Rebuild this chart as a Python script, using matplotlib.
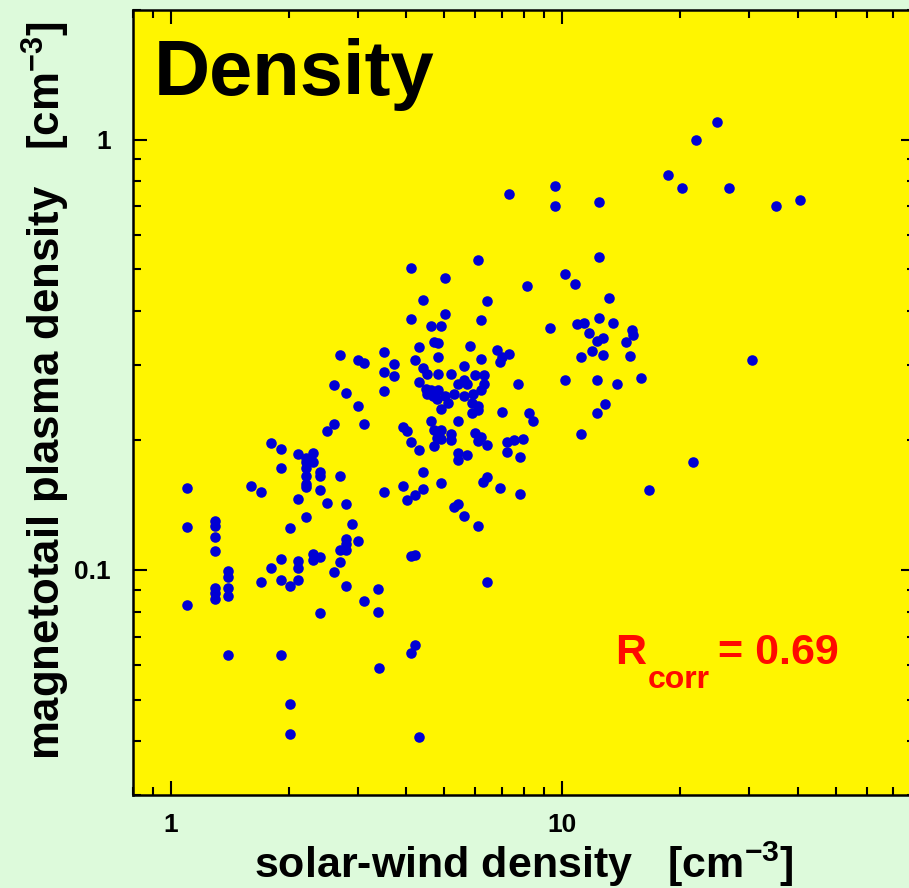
import matplotlib
matplotlib.use("Agg")
import matplotlib.pyplot as plt
from matplotlib import ticker

# solar-wind density [cm^-3] vs magnetotail plasma density [cm^-3]
sw_density = [
    24.9, 22.0, 18.7, 20.3, 26.7, 35.2, 40.6, 7.32, 9.61, 9.61,
    12.4, 6.11, 4.11, 5.02, 12.4, 10.2, 10.8, 8.11, 4.41, 6.42,
    13.2, 5.02, 4.11, 6.22, 12.4, 4.61, 4.91, 9.33, 10.9, 11.4,
    13.5, 11.7, 15.1, 15.2, 12.3, 12.7, 14.6, 4.71, 4.81, 5.81,
    4.31, 2.70, 3.51, 6.80, 7.32, 4.81, 3.01, 3.11, 4.21, 6.22,
    7.02, 6.92, 11.9, 11.2, 12.7, 14.9, 30.5, 3.71, 5.61, 4.41,
    4.51, 3.51, 3.71, 4.81, 5.21, 6.00, 6.31, 5.61, 5.41, 5.72,
    6.31, 6.22, 2.61, 4.31, 7.72, 10.2, 12.3, 13.8, 15.9, 3.51,
    2.81, 4.49, 4.61, 4.81, 4.52, 4.68, 4.78, 5.02, 5.11, 5.30,
    5.61, 5.93, 5.89, 6.10, 6.11, 5.89, 4.91, 7.02, 3.01, 8.22,
    8.42, 12.9, 12.3, 2.61, 2.50, 3.11, 4.61, 5.41, 3.91, 4.01,
    4.71, 4.91, 4.78, 4.91, 5.21, 5.21, 6.00, 6.19, 6.11, 6.42,
    4.11, 4.71, 4.31, 5.41, 5.41, 5.72, 7.21, 7.52, 7.93, 7.22,
    7.82, 11.2, 1.80, 1.91, 1.91, 2.11, 2.31, 2.21, 2.21, 2.31,
    2.21, 2.21, 2.21, 2.21, 2.41, 2.41, 2.41, 2.70, 4.41, 4.91,
    3.91, 4.41, 4.21, 4.01, 3.51, 6.42, 6.29, 6.92, 7.82, 21.6,
    16.7, 1.60, 1.70, 1.10, 2.11, 2.50, 2.81, 5.30, 5.41, 5.61,
    6.11, 2.21, 2.01, 2.91, 1.10, 1.30, 1.30, 1.30, 1.30, 2.81,
    2.81, 2.81, 2.70, 3.01, 2.31, 2.31, 2.41, 2.70, 2.11, 2.11,
    2.11, 1.91, 1.80, 2.61, 2.01, 1.91, 1.70, 2.81, 1.40, 1.40,
    1.30, 1.30, 1.30, 1.40, 1.40, 1.10, 3.11, 3.39, 3.39, 2.41,
    4.11, 4.21, 6.42, 1.40, 1.91, 4.21, 4.11, 3.41, 2.01, 2.01,
    4.31,
]
tail_density = [
    1.10, 1.00, 0.826, 0.772, 0.772, 0.700, 0.724, 0.747, 0.782, 0.700,
    0.716, 0.526, 0.502, 0.476, 0.534, 0.487, 0.462, 0.457, 0.423, 0.422,
    0.428, 0.393, 0.382, 0.380, 0.384, 0.369, 0.368, 0.364, 0.372, 0.374,
    0.374, 0.356, 0.361, 0.352, 0.341, 0.345, 0.338, 0.338, 0.336, 0.331,
    0.329, 0.315, 0.321, 0.325, 0.317, 0.312, 0.308, 0.303, 0.307, 0.309,
    0.312, 0.304, 0.322, 0.312, 0.316, 0.314, 0.308, 0.301, 0.298, 0.295,
    0.285, 0.288, 0.282, 0.285, 0.286, 0.284, 0.284, 0.277, 0.270, 0.270,
    0.270, 0.262, 0.269, 0.273, 0.271, 0.276, 0.277, 0.270, 0.280, 0.260,
    0.258, 0.264, 0.262, 0.262, 0.256, 0.253, 0.249, 0.253, 0.244, 0.257,
    0.253, 0.256, 0.244, 0.241, 0.235, 0.232, 0.2365, 0.233, 0.241, 0.231,
    0.222, 0.2435, 0.231, 0.218, 0.210, 0.218, 0.222, 0.222, 0.215, 0.210,
    0.212, 0.211, 0.203, 0.201, 0.207, 0.200, 0.208, 0.204, 0.199, 0.195,
    0.198, 0.194, 0.190, 0.187, 0.180, 0.185, 0.198, 0.200, 0.202, 0.188,
    0.183, 0.207, 0.197, 0.191, 0.173, 0.186, 0.187, 0.182, 0.178, 0.178,
    0.173, 0.165, 0.158, 0.156, 0.169, 0.165, 0.153, 0.165, 0.169, 0.159,
    0.157, 0.154, 0.149, 0.1455, 0.152, 0.164, 0.160, 0.155, 0.150, 0.178,
    0.153, 0.1565, 0.152, 0.155, 0.146, 0.143, 0.1426, 0.140, 0.1426, 0.1335,
    0.1265, 0.133, 0.125, 0.128, 0.126, 0.130, 0.1265, 0.119, 0.1105, 0.118,
    0.1147, 0.111, 0.111, 0.117, 0.109, 0.1055, 0.107, 0.1045, 0.105, 0.101,
    0.095, 0.106, 0.101, 0.099, 0.092, 0.0946, 0.094, 0.0917, 0.0992, 0.0965,
    0.0908, 0.0886, 0.0858, 0.0907, 0.087, 0.0828, 0.0845, 0.0902, 0.080, 0.0796,
    0.108, 0.1086, 0.094, 0.0635, 0.0635, 0.067, 0.0643, 0.0591, 0.0489, 0.0415,
    0.0410,
]
r_corr = 0.69

W, H = 909, 888
plt.rcParams['font.family'] = ['Liberation Sans', 'DejaVu Sans']
plt.rcParams['font.weight'] = 'bold'
plt.rcParams['mathtext.fontset'] = 'custom'
plt.rcParams['mathtext.rm'] = 'Liberation Sans:bold'
plt.rcParams['mathtext.bf'] = 'Liberation Sans:bold'
plt.rcParams['mathtext.default'] = 'bf'

fig = plt.figure(figsize=(W / 100, H / 100), dpi=100, facecolor='#ddfadb')
# axes box runs slightly past the right edge of the figure
ax = fig.add_axes([133 / W, 1 - 795 / H, 782.4 / W, 785 / H])
ax.set_facecolor('#fff500')

ax.plot(sw_density, tail_density, 'o', color='#0000d4', markersize=7.6,
        markeredgewidth=0, zorder=3)

ax.set_xscale('log')
ax.set_yscale('log')
ax.set_xlim(0.8, 80)
ax.set_ylim(0.03, 2)

fmt = ticker.FuncFormatter(lambda v, _: f'{v:g}')
ax.xaxis.set_major_formatter(fmt)
ax.yaxis.set_major_formatter(fmt)
ax.xaxis.set_minor_formatter(ticker.NullFormatter())
ax.yaxis.set_minor_formatter(ticker.NullFormatter())
ax.tick_params(which='both', direction='in', top=True, right=True,
               width=1.5, colors='black', labelsize=19)
ax.tick_params(which='major', length=10)
ax.tick_params(which='minor', length=5.5)
ax.tick_params(axis='x', pad=13)
ax.tick_params(axis='y', pad=16)
for s in ax.spines.values():
    s.set_linewidth(1.8)

ax.set_xlabel('solar-wind density   [cm$^{-3}$]', fontsize=31,
              fontweight='bold', va='baseline')
ax.xaxis.set_label_coords(0.5, -0.106)
ax.set_ylabel('magnetotail plasma density   [cm$^{-3}$]', fontsize=31.5,
              fontweight='bold', va='baseline')
ax.yaxis.set_label_coords(-0.092, 0.515)

ax.text(0.026, 0.892, 'Density', transform=ax.transAxes, fontsize=56,
        fontweight='bold', va='baseline', ha='left')

red = '#ff0a00'
fig.text(615 / W, 1 - 663.5 / H, 'R', color=red, fontsize=31,
         fontweight='bold', va='baseline')
fig.text(648 / W, 1 - 688 / H, 'corr', color=red, fontsize=23,
         fontweight='bold', va='baseline')
fig.text(718 / W, 1 - 663.5 / H, f'= {r_corr:.2f}', color=red, fontsize=31,
         fontweight='bold', va='baseline')

fig.savefig('out.png', dpi=100, facecolor=fig.get_facecolor())
